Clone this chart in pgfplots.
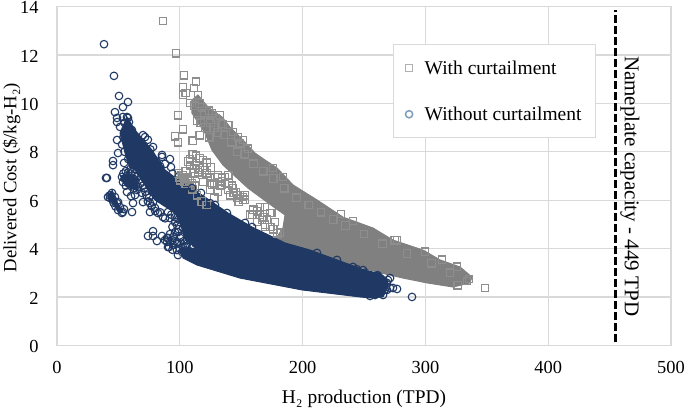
\documentclass[border=0pt]{standalone}
\usepackage{fontspec}
\setmainfont{Liberation Serif}
\usepackage{pgfplots}
\pgfplotsset{compat=1.18}
\definecolor{gridc}{HTML}{D9D9D9}
\definecolor{navy}{HTML}{1F3864}
\definecolor{gry}{HTML}{808080}
\definecolor{gryl}{HTML}{8E8E8E}
\definecolor{legc}{HTML}{7F9DBB}
\begin{document}
\begin{tikzpicture}
\path[use as bounding box] (-57pt,-61.7pt) rectangle (628pt,345.3pt);
\begin{axis}[
  scale only axis, width=614pt, height=338.6pt,
  xmin=0, xmax=500, ymin=0, ymax=14,
  xtick={0,100,200,300,400,500}, ytick={0,2,4,6,8,10,12,14},
  grid=major, grid style={gridc,line width=1.2pt},
  axis line style={gridc,line width=1.4pt},
  tick style={draw=none},
  /pgf/number format/assume math mode=true,
  tick label style={font=\fontsize{18.4}{21}\selectfont},
  xticklabel style={yshift=-12pt},
  yticklabel style={xshift=-15pt,yshift=-1pt},
  xlabel={H₂ production (TPD)},
  ylabel={Delivered Cost (\$/kg-H₂)},
  xlabel style={font=\fontsize{19.4}{22}\selectfont,at={(axis description cs:0.5,0)},anchor=north,yshift=-41pt},
  ylabel style={font=\fontsize{18.7}{22}\selectfont,at={(axis description cs:0,0.495)},anchor=south,yshift=33pt},
  legend style={at={(axis cs:273.6,12.45)},anchor=north west,draw=gridc,line width=1pt,fill=white,
    font=\fontsize{19.5}{22}\selectfont,inner xsep=12pt,inner ysep=14pt,row sep=27pt,
    /tikz/every odd column/.append style={column sep=10pt}},
  legend cell align=left,
]
% grey dense band
\addplot[forget plot,fill=gry,draw=gry,line width=1pt,line join=round] coordinates {
(109.9,10.14)(114.8,10.35)(123.0,9.85)(134.4,9.44)(140.9,9.02)(153.1,8.40)(161.2,7.95)(169.4,7.66)(179.2,7.33)
(192.2,6.63)(211.7,6.01)(232.9,5.30)(257.3,4.85)(273.6,4.35)(298.0,3.94)(311.9,3.53)(328.2,3.24)(337.9,2.82)
(336.3,2.58)(322.5,2.41)(301.3,2.58)(281.8,2.78)(263,3.0)(197.9,3.9)(178,4.4)(184,4.85)(185.7,5.39)
(177.5,5.68)(155.5,6.50)(135.2,7.45)(126.2,8.07)(120.5,8.78)(109.9,9.60)(109.9,10.14)};
\addplot[forget plot,fill=gry,draw=gry,line width=1pt,line join=round] coordinates {
(98,7.2)(105,7.0)(113,6.5)(108,6.2)(100,6.6)(98,7.2)};
% grey squares
\addplot[forget plot,only marks,mark=square,mark size=3.8pt,mark options={draw=gryl,line width=1.3pt,fill=none}] coordinates {
(86.3,13.41)(96.9,12.08)(103.4,11.17)(102.6,10.68)(113.2,10.89)(111.6,10.64)(102.6,10.35)(98.5,9.52)(102.6,8.94)
(96.1,8.65)(98.5,8.40)(110.7,8.45)(114.8,10.35)(118.1,9.85)(108.3,10.02)(105,10.43)(132.7,9.52)(139.3,9.11)
(147.4,8.61)(151.5,8.49)(116.4,8.69)(114,9.3)(126.2,9.6)(123.8,9.69)(129.5,9.4)(135,9.15)(143.3,8.82)(149,8.36)
(155.5,8.12)(175.9,7.33)(184,6.96)(231.3,5.43)(241,5.14)(276.9,4.35)(275.2,4.35)(299.7,3.86)(313.5,3.53)
(325.7,3.24)(335.5,2.74)(348.5,2.37)(326.5,2.49)(333.9,2.66)
(108.3,7.70)(113.2,7.83)(116.4,7.74)(113.2,7.45)(118.9,7.66)(108.3,7.45)(116.4,7.33)(122.1,7.54)(122.1,7.12)
(118.1,7.04)(124.6,6.92)(128.7,6.96)(134.4,6.92)(126.2,6.63)(132.7,6.59)(136.8,6.71)(139.3,6.42)(142.5,6.59)
(145.8,6.34)(149.0,6.21)(153.1,6.21)(151.5,6.01)(146.6,6.09)(140.9,6.21)(131.1,6.34)(124.6,6.42)(120.5,7.25)
(114.8,7.16)(139.3,7.04)(134.4,6.79)(157.2,5.39)(158.8,5.39)(165.3,5.72)(169.4,5.72)(175.1,5.47)(166.9,5.18)
(169.4,4.89)(173.5,4.89)(177.5,5.10)(181.6,4.68)(165.3,5.39)(167.8,5.30)(153.1,6.01)(151.5,6.13)(143.3,6.50)
(136.8,6.96)(131.1,7.04)(124.6,6.71)(116.4,7.25)(134.4,6.63)(146.6,6.21)(162.9,5.10)(179.2,4.64)(173.5,5.47)
(169.4,5.0)(98.5,7.12)(102.6,7.04)(106.7,6.92)(109.9,6.71)(100.2,6.83)(105,6.67)(112.4,6.59)(103.5,6.9)(108,6.8)
(99.5,6.95)(104,6.75)(110,6.45)(114,6.2)(118,5.95)(122,5.8)(128,6.1)(112,7.1)(119,6.75)(105,7.2)
(112,9.9)(116,10.0)(120,9.6)(117,9.2)(121,9.0)(125,9.2)(128,9.0)(124,8.6)(131,8.8)(136,8.7)(142,8.4)(147,8.0)(153,7.9)
(160,7.5)(168,7.2)(176,6.9)(185,6.5)(195,6.1)(205,5.8)(215,5.5)(225,5.2)(235,4.95)(250,4.6)(265,4.2)(285,3.8)(305,3.4)(320,3.0)
(112,7.3)(107,7.6)(110.5,7.9)(119,7.35)(125,7.35)(128,6.7)(140,6.7)(144,6.3)(148,5.95)(160,5.6)(163,5.55)(171,5.2)(176,4.8)};
% navy dense band
\addplot[forget plot,fill=navy,draw=navy,line width=1pt,line join=round] coordinates {
(57.0,9.44)(51.3,8.78)(55.4,7.95)(59.4,7.33)(63.5,7.25)(74.1,6.42)(79.8,6.01)(96.1,5.47)(101,5.0)(104,4.4)(114.8,3.94)
(106.7,4.05)(101,3.95)(102.6,3.61)(114,3.32)(149,2.78)(199.5,2.29)(246.7,2.0)(254.9,1.96)
(265.5,2.0)(269.5,2.41)(269.5,2.7)(263,2.99)(254.9,3.03)(228,3.53)(206,3.94)(185.7,4.23)(158.8,4.89)(139.3,5.47)
(118.1,6.21)(104.2,6.63)(87.9,7.25)(77.4,8.07)(63.5,8.90)(57.0,9.44)};
\addplot[forget plot,fill=navy,draw=navy,line width=1pt,line join=round] coordinates {
(52,7.0)(58,7.1)(66,6.9)(66,6.4)(60,6.5)(54,6.7)(52,7.0)};
\addplot[forget plot,fill=navy,draw=navy,line width=1pt,line join=round] coordinates {
(41,6.2)(45,6.4)(50,5.8)(54,5.5)(50,5.5)(45,5.9)(41,6.2)};
% navy circles
\addplot[forget plot,only marks,mark=o,mark size=3.8pt,mark options={draw=navy,line width=1.1pt,fill=none}] coordinates {
(38.3,12.45)(46.4,11.14)(50.5,10.31)(57.8,10.06)(53.7,9.85)(47.2,9.64)(57.8,9.4)(48.9,9.23)(48.9,8.49)(49.7,7.95)
(45.6,7.62)(45.6,7.45)(54.6,7.54)(39.9,6.92)(71.7,8.61)(78.2,8.2)(85.5,7.87)(92,7.70)(92.8,7.37)(117.3,6.3)(110,6.5)
(53.7,9.44)(57,9.44)(48.9,9.4)(51.3,9.03)(58.6,9.23)(70,8.69)(85.5,7.79)
(40.7,6.92)(52.9,6.96)(53.7,6.75)(57,7.0)(59.4,6.92)(61.9,6.75)(57,6.34)(60.3,6.17)(65.1,6.42)(69.2,6.30)(70,5.92)
(66,6.54)(63.5,6.21)(61.9,5.88)(61.1,5.51)(55,6.9)(56,6.6)(60,6.6)(63,6.5)(58,6.7)
(44.8,6.3)(43.2,6.09)(45.6,6.01)(48.9,5.88)(51.3,5.72)(52.9,5.47)(49.7,5.59)(53.7,5.51)(44.8,6.09)(47.2,6.13)
(49.7,5.92)(54.6,5.63)(41.5,6.13)(46,5.9)(47.5,5.75)(43,6.2)
(75.7,5.88)(75.7,5.51)(79.8,5.68)(82.2,5.47)(86.3,5.30)(92,5.26)(78.2,5.92)(90.4,5.51)
(74.1,4.52)(78.2,4.72)(78.2,4.52)(81.4,4.31)(85.5,4.52)(89.6,4.44)(91.2,4.06)(89.6,4.27)(92,4.27)(96.1,4.68)
(97.7,4.97)(98.5,4.68)(102.6,4.85)(105.9,4.35)(90.4,4.44)(90.4,4.06)(97.7,3.94)(98.5,3.73)(102.6,4.06)(108.3,4.35)
(110.7,4.15)(100.2,4.44)(105.9,4.64)(94.5,4.15)(87.9,4.35)(101.8,3.86)(93.6,4.35)(97.7,4.27)
(271.2,2.37)(273.6,2.37)(276.9,2.33)(289.1,2.0)(269.5,2.70)(265.5,2.08)(259,2.08)(254.9,2.04)(263,2.2)(268.7,2.29)
(249.2,3.11)(271.2,2.78)(268.7,2.58)(254.9,2.91)(241,3.24)(228,3.53)(211.7,3.82)
(124.6,5.88)(128.7,5.8)(138.4,5.47)(153.1,5.06)(158.8,4.89)
(55,9.2)(58,9.0)(61,8.9)(54,8.6)(57,8.4)(53,8.3)(55,8.0)(60,8.6)(64,8.4)(67,8.2)(74,8.5)(76,8.1)(81,7.6)(84,7.4)(88,7.5)(94,7.1)
(58,7.7)(60,7.3)(62,7.6)(56,7.2)(63,7.0)(66,7.0)(68,6.7)(71,6.5)(73,6.2)(75,6.1)
(54,7.1)(58,7.15)(60,7.1)(62,6.9)(64,6.8)(67,6.85)(70,6.6)(72,6.35)(74,5.95)(77,5.75)(80,5.55)(84,5.5)(88,5.25)(93,5.4)(96,5.3)(99,5.2)
(92,4.6)(94,4.9)(96,5.1)(99,4.8)(101,4.5)(103,4.3)(104,4.1)(95,4.5)(96,4.3)(99,4.2)(100,4.0)(103,3.9)(106,4.2)(106,4.9)(108,4.6)(111,4.4)(113,4.2)(94,3.95)
(262,2.6)(265,2.45)(267,2.3)(258,2.35)(261,2.9)(251,3.0)(244,3.15)};
% nameplate line
\addplot[forget plot,black,line width=3pt,dash pattern=on 8pt off 3pt] coordinates {(454.4,0.14)(454.4,13.87)};
\node[rotate=-90,font=\fontsize{21}{24}\selectfont,inner sep=0pt] at (axis cs:466.6,6.58) {Nameplate capacity - 449 TPD};
\addlegendimage{only marks,mark=square,mark size=3.6pt,mark options={draw=gryl!70,line width=1.3pt,fill=none}}
\addlegendentry{With curtailment}
\addlegendimage{only marks,mark=o,mark size=3.6pt,mark options={draw=legc,line width=1.5pt,fill=none}}
\addlegendentry{Without curtailment}
\end{axis}
\end{tikzpicture}
\end{document}
